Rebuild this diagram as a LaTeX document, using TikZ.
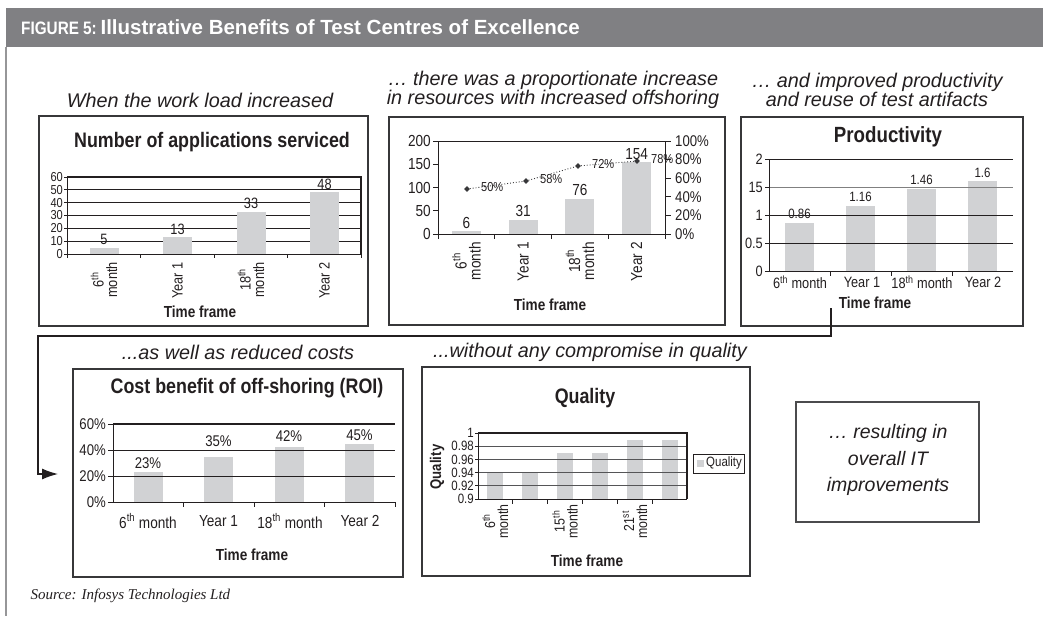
\documentclass[tikz,border=0pt]{standalone}
\usepackage{fontspec}
\setmainfont{Liberation Sans}
\newfontfamily\cnd[FakeStretch=0.85]{Liberation Sans}
\newfontfamily\srcfont{Liberation Serif}
\usetikzlibrary{arrows.meta,shapes.geometric}

\definecolor{headgray}{RGB}{128,128,131}
\definecolor{bargray}{RGB}{209,210,212}
\definecolor{inkgray}{RGB}{35,31,32}
\definecolor{linegray}{RGB}{55,55,57}
\definecolor{framegray}{RGB}{150,150,152}

\tikzset{
  panel/.style={draw=linegray, line width=1.3pt, inner sep=0pt},
  caption/.style={font=\fontsize{19.8}{18}\selectfont\itshape, text=inkgray, align=center},
  ctitle/.style={font=\cnd\bfseries\fontsize{21}{24}\selectfont, text=inkgray},
  axlbl/.style={font=\cnd\fontsize{13}{14}\selectfont, text=inkgray, inner sep=1pt},
  smlbl/.style={font=\cnd\fontsize{13.5}{14}\selectfont, text=inkgray, inner sep=1pt},
  vallbl/.style={font=\cnd\fontsize{15}{16}\selectfont, text=inkgray, inner sep=2.5pt, anchor=south},
  xname/.style={font=\cnd\bfseries\fontsize{16}{18}\selectfont, text=inkgray},
  catlbl/.style={font=\cnd\fontsize{15}{13.5}\selectfont, text=inkgray, align=center, rotate=90, anchor=east, inner sep=1pt},
  bar/.style={fill=bargray},
  grid/.style={draw=inkgray, line width=0.8pt},
  link/.style={draw=inkgray, line width=1.2pt},
  dotmark/.style={diamond, fill=linegray, inner sep=0pt, minimum size=6pt},
}

\begin{document}
\begin{tikzpicture}[x=1pt,y=-1pt]
\useasboundingbox (0,0) rectangle (1043,616);

\fill[headgray] (6,8) rectangle (1043,47);
\node[anchor=west, text=white, font=\bfseries, inner sep=0pt] (head) at (21,27.5)
  {{\cnd\fontsize{18}{20}\selectfont FIGURE 5:} {\fontsize{20.5}{22}\selectfont Illustrative Benefits of Test Centres of Excellence}};
\draw[framegray, line width=1.5pt] (6,47) -- (6,616);

% number of applications
\node[caption] (capApps) at (200,100) {When the work load increased};
\node[panel, minimum width=329pt, minimum height=210pt] (boxApps) at (203.5,221) {};
\node[ctitle] (titleApps) at (212,142) {Number of applications serviced};
\foreach \v in {10,20,...,50}{
  \pgfmathsetmacro\yy{254-1.2833*\v}
  \draw[grid] (67,\yy) -- (361,\yy);
}
\draw[grid, line width=1.1pt] (67,177) -- (361,177) -- (361,254);
\foreach \c/\v in {104/5, 177.5/13, 251/33, 324.5/48}{
  \pgfmathsetmacro\ytop{254-1.2833*\v}
  \fill[bar] (\c-14.5,254) rectangle (\c+14.5,\ytop);
  \node[vallbl] (valApps\v) at (\c,\ytop) {\v};
}
\draw[grid] (67,177) -- (67,254) -- (361,254);
\foreach \v in {0,10,...,60}{
  \pgfmathsetmacro\yy{254-1.2833*\v}
  \draw[grid] (64,\yy) -- (67,\yy);
  \node[axlbl, anchor=east] (yApps\v) at (64,\yy) {\v};
}
\foreach \x in {67,140.5,214,287.5,361}
  \draw[grid] (\x,254) -- (\x,258);
\foreach \c/\t/\n in {104/6\textsuperscript{th}\\month/a, 177.5/Year 1/b, 251/18\textsuperscript{th}\\month/c, 324.5/Year 2/d}
  \node[catlbl] (catApps\n) at (\c,261) {\t};
\node[xname] (timeApps) at (200,312) {Time frame};

% resources and offshoring
\node[caption] (capRes) at (553,90) {… there was a proportionate increase\\in resources with increased offshoring};
\node[panel, minimum width=336pt, minimum height=208pt] (boxRes) at (557,221) {};
\foreach \c/\v in {466.4/6, 523.1/31, 579.9/76, 636.6/154}{
  \pgfmathsetmacro\ytop{234-0.465*\v}
  \fill[bar] (\c-14.5,234) rectangle (\c+14.5,\ytop);
  \node[vallbl, font=\cnd\fontsize{16}{17}\selectfont] (valRes\v) at (\c,\ytop) {\v};
}
\draw[grid] (438,141) -- (665,141);
\draw[grid] (438,141) -- (438,234) -- (665,234) -- (665,141);
\foreach \v in {0,50,...,200}{
  \pgfmathsetmacro\yy{234-0.465*\v}
  \draw[grid] (433,\yy) -- (438,\yy);
  \node[axlbl, anchor=east, font=\cnd\fontsize{16}{17}\selectfont] (yRes\v) at (432,\yy) {\v};
}
\foreach \v in {0,20,...,100}{
  \pgfmathsetmacro\yy{234-0.93*\v}
  \draw[grid] (665,\yy) -- (671,\yy);
  \node[axlbl, anchor=west, font=\cnd\fontsize{15.5}{16}\selectfont] (pRes\v) at (674,\yy) {\v\%};
}
\foreach \x in {438,494.75,551.5,608.25,665}
  \draw[grid] (\x,234) -- (\x,239);
\foreach \x/\y/\p in {467/189/50, 526/181/58, 578/166/72, 637/161/78}{
  \node[dotmark] (ptRes\p) at (\x,\y) {};
  \node[axlbl, anchor=west] (lblRes\p) at (\x+13,\y-2) {\p\%};
}
\draw[linegray, line width=0.9pt, dotted] (ptRes50) -- (ptRes58) -- (ptRes72) -- (ptRes78);
\foreach \c/\t/\n in {466.4/6\textsuperscript{th}\\month/a, 523.1/Year 1/b, 579.9/18\textsuperscript{th}\\month/c, 636.6/Year 2/d}
  \node[catlbl, font=\cnd\fontsize{16}{14}\selectfont] (catRes\n) at (\c,241) {\t};
\node[xname] (timeRes) at (550,305) {Time frame};

% productivity
\node[caption] (capProd) at (877,90) {… and improved productivity\\and reuse of test artifacts};
\node[panel, minimum width=282pt, minimum height=209pt] (boxProd) at (882,221.5) {};
\node[ctitle, font=\cnd\bfseries\fontsize{22}{24}\selectfont] (titleProd) at (888,137) {Productivity};
\foreach \c/\v in {799.5/0.86, 860.5/1.16, 921.5/1.46, 982.5/1.6}{
  \pgfmathsetmacro\ytop{271-56*\v}
  \fill[bar] (\c-14.5,271) rectangle (\c+14.5,\ytop);
  \node[smlbl, anchor=south, inner sep=4pt] (valProd\v) at (\c,\ytop) {\v};
}
\draw[grid] (769,159) -- (1013,159);
\draw[grid] (769,215) -- (1013,215);
\draw[grid] (769,243) -- (1013,243);
\draw[grid, draw=gray] (769,187) -- (1013,187);
\draw[grid] (769,159) -- (769,271) -- (1013,271);
\foreach \y/\t/\n in {159/2/a, 187/15/b, 215/1/c, 243/0.5/d, 271/0/e}{
  \draw[grid] (765,\y) -- (769,\y);
  \node[axlbl, anchor=east, font=\cnd\fontsize{15}{15}\selectfont] (yProd\n) at (764,\y) {\t};
}
\foreach \x in {830,891,952}
  \draw[grid] (\x,271) -- (\x,276);
\foreach \c/\t/\n in {800/6\textsuperscript{th} month/a, 862/Year 1/b, 922/18\textsuperscript{th} month/c, 983/Year 2/d}
  \node[axlbl, font=\cnd\fontsize{15}{15}\selectfont] (catProd\n) at (\c,282) {\t};
\node[xname] (timeProd) at (875,303) {Time frame};

% cost benefit
\node[caption] (capCost) at (238,352) {...as well as reduced costs};
\node[panel, minimum width=330pt, minimum height=208pt] (boxCost) at (238,473) {};
\node[ctitle] (titleCost) at (247,388) {Cost benefit of off-shoring (ROI)};
\foreach \c/\v/\ly in {148/23/463, 218.5/35/441, 289/42/436, 359.5/45/435}{
  \pgfmathsetmacro\ytop{502-1.3*\v}
  \fill[bar] (\c-14.5,502) rectangle (\c+14.5,\ytop);
  \node[vallbl, font=\cnd\fontsize{15.5}{16}\selectfont, anchor=center, inner sep=0pt] (valCost\v) at (\c,\ly) {\v\%};
}
\draw[grid, line width=1.1pt] (113,424) -- (395,424);
\draw[grid] (113,450) -- (395,450);
\draw[grid] (113,476) -- (395,476);
\draw[grid] (113,424) -- (113,502) -- (395,502);
\foreach \v in {0,20,40,60}{
  \pgfmathsetmacro\yy{502-1.3*\v}
  \draw[grid] (108,\yy) -- (113,\yy);
  \node[axlbl, anchor=east, font=\cnd\fontsize{15.5}{16}\selectfont] (yCost\v) at (107,\yy) {\v\%};
}
\foreach \x in {183.5,254,324.5,395}
  \draw[grid] (\x,502) -- (\x,507);
\foreach \c/\t/\n in {148/6\textsuperscript{th} month/a, 218.5/Year 1/b, 290/18\textsuperscript{th} month/c, 360/Year 2/d}
  \node[axlbl, font=\cnd\fontsize{16}{16}\selectfont] (catCost\n) at (\c,521) {\t};
\node[xname] (timeCost) at (252,555) {Time frame};

% quality
\node[caption] (capQual) at (590,352) {...without any compromise in quality};
\node[panel, minimum width=328pt, minimum height=209pt] (boxQual) at (586,471.5) {};
\node[ctitle] (titleQual) at (585,398) {Quality};
\foreach \c/\v/\n in {495.4/0.94/a, 530.2/0.94/b, 565/0.97/c, 599.8/0.97/d, 634.7/0.99/e, 669.5/0.99/f}{
  \pgfmathsetmacro\ytop{499-660*(\v-0.9)}
  \fill[bar] (\c-8,499) rectangle (\c+8,\ytop);
}
\foreach \y in {446.2,459.4,472.6,485.8}
  \draw[grid, draw=linegray!85] (478,\y) -- (687,\y);
\draw[grid, line width=1.1pt] (478,433) -- (687,433) -- (687,499);
\draw[grid] (478,433) -- (478,499) -- (687,499);
\foreach \y/\t/\n in {433/1/a, 446.2/0.98/b, 459.4/0.96/c, 472.6/0.94/d, 485.8/0.92/e, 499/0.9/f}{
  \draw[grid] (475,\y) -- (478,\y);
  \node[smlbl, anchor=east] (yQual\n) at (475,\y) {\t};
}
\foreach \x in {512.8,547.6,582.4,617.2,652}
  \draw[grid] (\x,499) -- (\x,504);
\foreach \c/\t/\n in {495.4/6\textsuperscript{th}\\month/a, 565/15\textsuperscript{th}\\month/c, 634.7/21\textsuperscript{st}\\month/e}
  \node[catlbl, font=\cnd\fontsize{14.5}{13}\selectfont] (catQual\n) at (\c,503) {\t};
\node[font=\cnd\bfseries\fontsize{15.5}{16}\selectfont, text=inkgray, rotate=90] (axQual) at (437,467) {Quality};
\node[draw=inkgray, line width=0.8pt, minimum width=51pt, minimum height=19pt, inner sep=0pt] (legQual) at (718.5,463.5) {};
\fill[bargray] (697,460) rectangle (704,467);
\node[smlbl, anchor=west] (legText) at (705,463.5) {Quality};
\node[xname] (timeQual) at (587,561) {Time frame};

% outcome
\node[panel, draw=linegray!90, minimum width=183pt, minimum height=120pt] (boxOut) at (887.5,462) {};
\node[caption, font=\fontsize{19.5}{26.5}\selectfont\itshape] (outText) at (888,460) {… resulting in\\overall IT\\improvements};

% connector
\coordinate (prodTail) at (831,308);
\coordinate (bendA) at (38,336);
\coordinate (costHead) at (58,474);
\draw[link, -{Latex[length=16pt,width=11pt]}] (prodTail) |- (bendA) |- (costHead);

\node[anchor=west, font=\srcfont\itshape\fontsize{15}{17}\selectfont, text=inkgray] (src) at (27,596) {Source: Infosys Technologies Ltd};
\end{tikzpicture}
\end{document}
